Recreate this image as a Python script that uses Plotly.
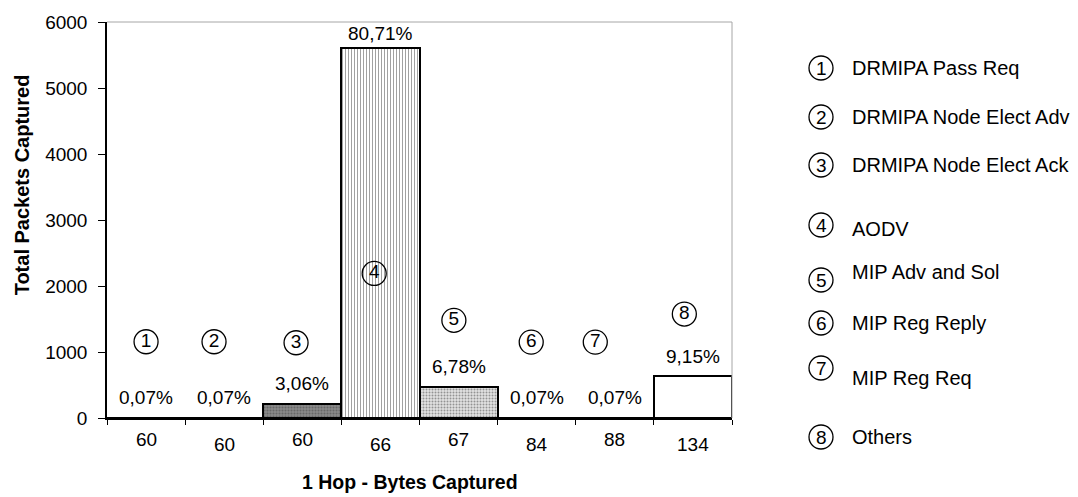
import plotly.graph_objects as go

# ---- data -------------------------------------------------------------
byte_sizes = ["60", "60", "60", "66", "67", "84", "88", "134"]
packet_counts = [5, 5, 213, 5609, 471, 5, 5, 636]
share_labels = ["0,07%", "0,07%", "3,06%", "80,71%", "6,78%", "0,07%", "0,07%", "9,15%"]
packet_types = [
    "DRMIPA Pass Req",
    "DRMIPA Node Elect Adv",
    "DRMIPA Node Elect Ack",
    "AODV",
    "MIP Adv and Sol",
    "MIP Reg Reply",
    "MIP Reg Req",
    "Others",
]

# ---- style / layout constants ------------------------------------------
FONT = "Liberation Sans, Arial, sans-serif"
FS = 19
LEG_FS = 20
Y_MAX = 6000
PLOT_H = 400          # plot area height in pixels
BADGE_Y = [1155, 1155, 1140, 2190, 1480, 1150, 1150, 1575]   # badge heights in the plot
BADGE_DX = [0.0, -0.13, -0.08, -0.08, -0.06, -0.07, -0.25, -0.11]
LEG_ROW_Y = [64, 113, 161, 221, 276, 319, 364, 433]          # legend rows, px from top
LEG_TEXT_DY = [0, 0, 0, 4, -8, 0, 10, 0]
LEG_CIRCLE_DX = 89     # px to the right of the plot area
LEG_TEXT_DX = 118
R = 12                 # badge radius, px

pat_shape = ["", "", ".", "|", ".", "", "", ""]
pat_fg = ["#000", "#000", "#5a5a5a", "#d2d2d2", "#a0a0a0", "#000", "#000", "#000"]
pat_bg = ["#ffffff", "#ffffff", "#8a8a8a", "#ffffff", "#e2e2e2", "#ffffff", "#ffffff", "#ffffff"]
pat_size = [3, 3, 3, 3, 3, 3, 3, 3]
pat_solid = [0.3, 0.3, 0.4, 0.35, 0.35, 0.3, 0.3, 0.3]

idx = list(range(len(byte_sizes)))

fig = go.Figure()

fig.add_trace(go.Bar(
    x=idx, y=packet_counts, width=1.0,
    marker=dict(
        color=pat_bg,
        line=dict(color="black", width=2),
        pattern=dict(shape=pat_shape, fgcolor=pat_fg, bgcolor=pat_bg,
                     size=pat_size, solidity=pat_solid),
    ),
    showlegend=False, hoverinfo="skip",
))

# circled numbers inside the plot
fig.add_trace(go.Scatter(
    x=[i + d for i, d in zip(idx, BADGE_DX)], y=BADGE_Y, mode="markers+text",
    marker=dict(symbol="circle-open", size=2 * R, color="black", line=dict(width=1.3)),
    text=[str(i + 1) for i in idx], textposition="middle center",
    textfont=dict(family=FONT, size=FS, color="black"),
    showlegend=False, hoverinfo="skip", cliponaxis=False,
))

annotations = []
shapes = []

# percentage labels above bars, kept inside the plot area
for i, (v, s) in enumerate(zip(packet_counts, share_labels)):
    px_above_top = (Y_MAX - v) / Y_MAX * PLOT_H
    annotations.append(dict(x=i, y=v, text=s, showarrow=False, yanchor="middle",
                            yshift=min(20, px_above_top - 12),
                            font=dict(family=FONT, size=FS, color="black")))

# staggered category labels
for i, lab in enumerate(byte_sizes):
    annotations.append(dict(x=i, y=0, text=lab, showarrow=False, yanchor="middle",
                            yshift=-21 if i % 2 == 0 else -26,
                            font=dict(family=FONT, size=FS, color="black")))

# axis titles
annotations.append(dict(xref="paper", yref="paper", x=0.485, y=0, yanchor="middle",
                        yshift=-64, text="<b>1 Hop - Bytes Captured</b>", showarrow=False,
                        font=dict(family=FONT, size=19.5, color="black")))
annotations.append(dict(xref="paper", yref="paper", x=0, y=0.5875, xanchor="center",
                        xshift=-85, textangle=-90, text="<b>Total Packets Captured</b>",
                        showarrow=False, font=dict(family=FONT, size=20, color="black")))

# legend: circled number + packet type
for i, name in enumerate(packet_types):
    dy = -(LEG_ROW_Y[i] - 18)
    shapes.append(dict(type="circle", xref="paper", yref="paper",
                       xsizemode="pixel", ysizemode="pixel", xanchor=1, yanchor=1,
                       x0=LEG_CIRCLE_DX - R, x1=LEG_CIRCLE_DX + R,
                       y0=dy - R, y1=dy + R, line=dict(color="black", width=1.3)))
    annotations.append(dict(xref="paper", yref="paper", x=1, y=1, xanchor="center",
                            yanchor="middle", xshift=LEG_CIRCLE_DX, yshift=dy,
                            text=str(i + 1), showarrow=False,
                            font=dict(family=FONT, size=FS, color="black")))
    annotations.append(dict(xref="paper", yref="paper", x=1, y=1, xanchor="left",
                            yanchor="middle", xshift=LEG_TEXT_DX,
                            yshift=dy - LEG_TEXT_DY[i], text=name, showarrow=False,
                            font=dict(family=FONT, size=LEG_FS, color="black")))

# lighter frame on top and right
shapes += [
    dict(type="line", xref="x domain", yref="y domain", x0=0, x1=1, y0=1, y1=1,
         line=dict(color="#a6a6a6", width=1)),
    dict(type="line", xref="x domain", yref="y domain", x0=1, x1=1, y0=0, y1=1,
         line=dict(color="#a6a6a6", width=1)),
]

fig.update_layout(
    width=1078, height=497,
    margin=dict(l=107, r=346, t=18, b=79),
    paper_bgcolor="white", plot_bgcolor="white",
    font=dict(family=FONT, size=FS, color="black"),
    bargap=0,
    xaxis=dict(range=[-0.5, 7.5], tickvals=[i - 0.5 for i in range(9)],
               ticktext=[""] * 9, ticks="outside", ticklen=5, tickcolor="black",
               showline=True, linecolor="black", linewidth=2, showgrid=False,
               zeroline=False, fixedrange=True),
    yaxis=dict(range=[0, Y_MAX], dtick=1000, ticks="outside", ticklen=7,
               tickcolor="black", showline=True, linecolor="black", linewidth=1.5,
               showgrid=False, zeroline=False, tickfont=dict(size=FS),
               ticklabelstandoff=7, fixedrange=True),
    annotations=annotations,
    shapes=shapes,
)

fig.write_html("out.html")
